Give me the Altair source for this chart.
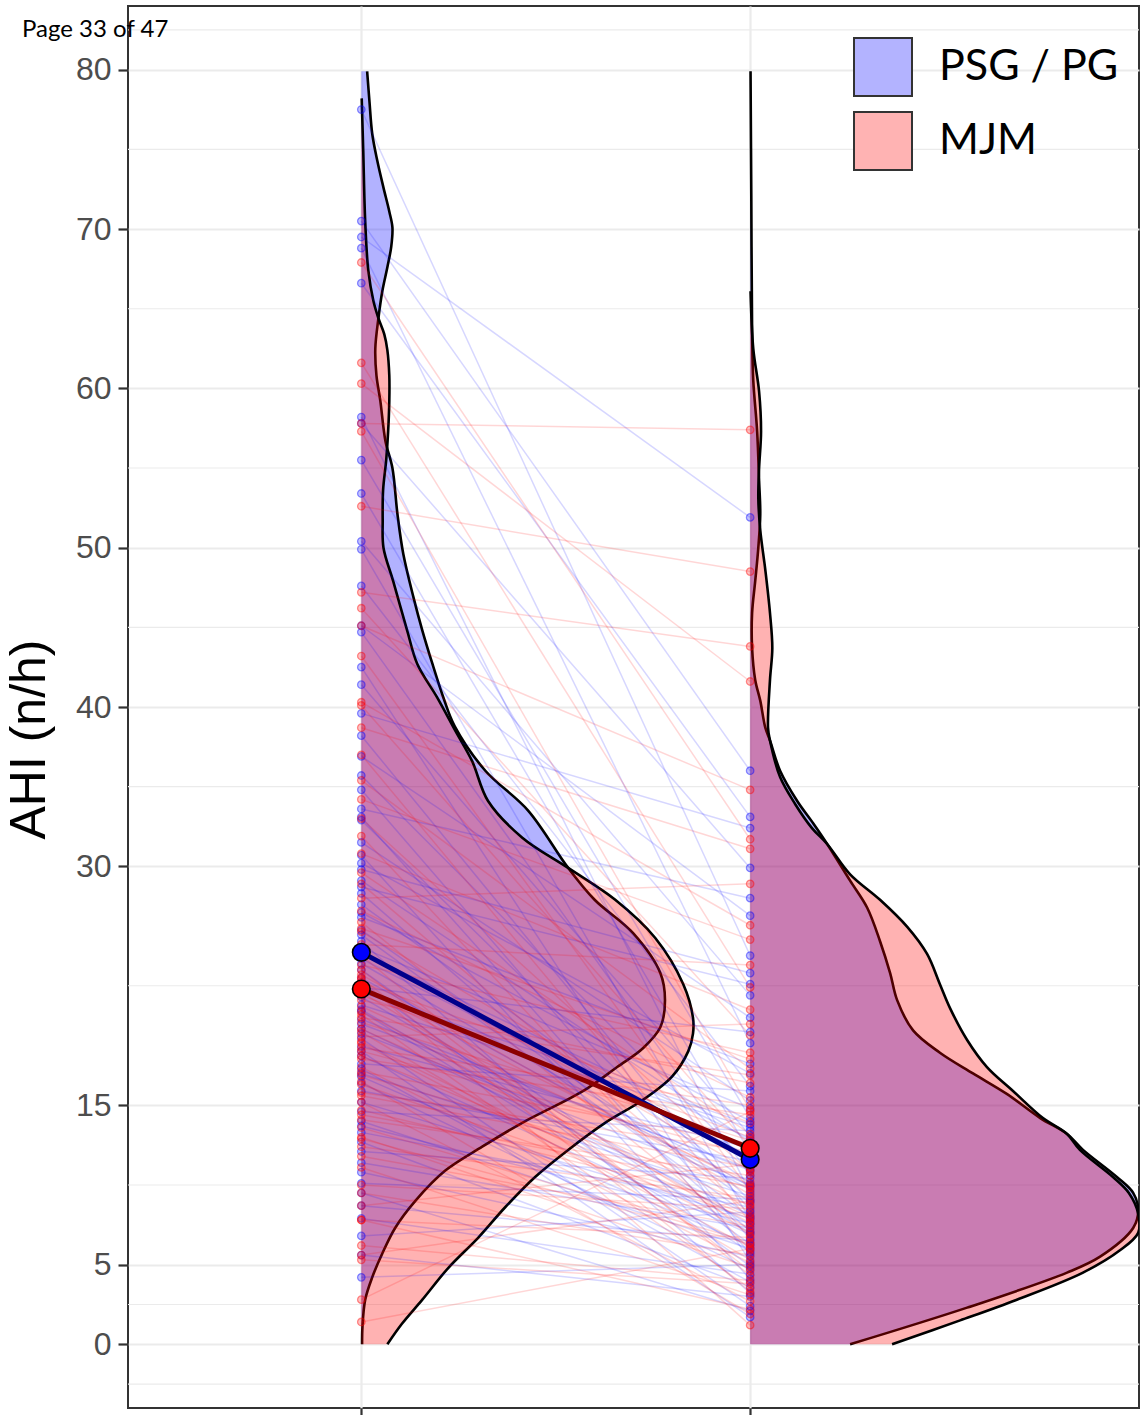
import altair as alt
import pandas as pd

# ---------------------------------------------------------------------------
# Data
# ---------------------------------------------------------------------------
GROUPS = [1, 2]
METHODS = ["PSG / PG", "MJM"]
BLUE, RED = "#0000ff", "#ff0000"

# per-subject AHI (n/h) at the first and second recording
psg_first = [77.5, 70.5, 69.5, 68.8, 66.6, 58.2, 57.8, 55.5, 53.4, 50.4,
             49.9, 47.6, 45.1, 44.7, 42.5, 41.4, 39.6, 38.2, 36.9, 35.7,
             34.8, 33.6, 32.9, 31.5, 30.7, 29.8, 29.1, 28.3, 27.6, 26.8,
             26.0, 25.3, 24.9, 24.2, 23.5, 23.0, 22.4, 21.8, 21.3, 20.9,
             20.4, 19.8, 19.2, 18.7, 18.1, 17.6, 17.0, 16.4, 15.9, 15.2,
             14.6, 14.0, 13.3, 12.7, 12.1, 11.4, 10.8, 10.1, 9.5, 8.7,
             7.9, 6.8, 5.6, 4.2, 27.1, 22.7, 19.5, 21.0, 24.6, 18.4,
             23.9, 16.8, 20.1, 25.7, 30.2, 33.1, 28.7, 17.3, 22.1, 13.7]
psg_second = [24.4, 36.0, 51.9, 18.9, 33.1, 9.5, 29.9, 14.2, 12.0, 21.9,
              7.8, 16.2, 26.9, 10.6, 5.2, 13.1, 32.4, 8.4, 20.5, 11.2,
              6.6, 28.0, 9.0, 15.3, 4.1, 23.3, 12.7, 7.1, 10.1, 17.6,
              8.9, 3.2, 14.8, 11.8, 6.3, 9.7, 19.6, 7.5, 13.6, 5.8,
              10.9, 8.1, 2.4, 12.3, 6.9, 15.9, 9.3, 4.7, 11.5, 7.9,
              13.4, 6.0, 8.6, 3.6, 10.4, 7.3, 5.5, 9.1, 2.1, 6.5,
              4.4, 8.3, 3.0, 5.0, 14.0, 4.9, 10.0, 7.0, 12.9, 1.7,
              9.9, 6.2, 11.0, 8.0, 17.0, 5.7, 22.6, 3.9, 13.8, 7.6]
mjm_first = [67.9, 61.6, 60.3, 57.8, 57.3, 52.6, 47.2, 46.2, 45.1, 43.2,
             40.3, 40.1, 38.7, 37.0, 35.4, 34.2, 33.0, 31.9, 30.8, 29.6,
             28.9, 28.0, 27.2, 26.5, 25.9, 25.1, 24.4, 23.8, 23.2, 22.7,
             22.1, 21.6, 21.2, 20.7, 20.2, 19.8, 19.3, 18.9, 18.4, 17.9,
             17.4, 16.9, 16.3, 15.8, 15.2, 14.7, 14.1, 13.6, 13.0, 12.4,
             11.8, 11.1, 10.0, 9.5, 8.7, 7.8, 7.8, 6.2, 5.6, 5.3,
             2.8, 1.4, 26.1, 22.9, 24.7, 19.0, 21.9, 23.5, 20.5, 18.1,
             16.5, 22.3, 19.6, 17.1, 20.9, 14.4, 23.0, 18.6, 12.9, 15.6]
mjm_second = [31.7, 22.4, 41.6, 57.4, 14.7, 48.5, 43.8, 19.4, 34.8, 9.6,
              26.3, 12.4, 31.1, 7.7, 17.3, 25.4, 10.8, 5.9, 21.0, 13.2,
              8.2, 28.9, 15.5, 6.8, 11.6, 23.8, 4.3, 18.3, 9.4, 13.9,
              7.2, 16.4, 10.2, 3.5, 12.8, 8.7, 20.1, 6.1, 11.9, 14.4,
              5.1, 9.8, 7.9, 12.1, 2.7, 8.8, 10.6, 6.4, 4.8, 9.2,
              7.4, 3.1, 8.5, 5.6, 11.3, 2.2, 6.7, 4.0, 9.0, 3.8,
              14.6, 6.0, 17.9, 1.2, 10.9, 7.0, 13.0, 4.6, 16.9, 8.0,
              1.9, 10.0, 5.3, 12.6, 7.6, 9.9, 3.3, 15.0, 6.3, 11.1]

# group means (first, second)
psg_means = [24.6, 11.6]
mjm_means = [22.3, 12.3]

# half-violin density outlines: AHI level and width in x units
psg_dens1_ahi = [79.9, 78.0, 76.0, 74.3, 72.6, 71.1, 70.1, 68.9, 67.6, 66.1,
                 64.4, 62.5, 60.8, 59.2, 56.7, 55.0, 52.1, 49.6, 46.9, 44.8,
                 42.7, 40.6, 38.8, 36.0, 33.5, 29.9, 27.9, 25.8, 23.3, 21.6,
                 19.9, 18.6, 17.4, 15.9, 13.9, 12.4, 10.9, 9.0, 7.3, 5.7,
                 4.2, 2.8, 1.1, 0.0]
psg_dens1_w = [0.015, 0.021, 0.028, 0.041, 0.057, 0.072, 0.080, 0.077, 0.067, 0.054,
               0.044, 0.036, 0.039, 0.049, 0.062, 0.080, 0.093, 0.108, 0.134, 0.157,
               0.183, 0.211, 0.240, 0.319, 0.429, 0.532, 0.600, 0.699, 0.769, 0.781,
               0.769, 0.725, 0.658, 0.571, 0.414, 0.311, 0.216, 0.139, 0.087, 0.054,
               0.028, 0.010, 0.003, 0.002]

mjm_dens1_ahi = [78.2, 74.9, 70.5, 67.4, 65.5, 64.4, 63.4, 62.4, 60.8, 59.2,
                 57.3, 55.5, 53.6, 51.7, 50.0, 47.9, 44.8, 42.7, 40.6, 38.5,
                 36.6, 34.1, 31.8, 29.9, 27.9, 25.5, 22.6, 20.5, 19.5, 18.4,
                 16.8, 15.3, 13.9, 12.2, 10.5, 8.6, 6.7, 4.8, 2.8, 1.3, 0.0]
mjm_dens1_w = [0.001, 0.005, 0.010, 0.018, 0.031, 0.044, 0.059, 0.067, 0.072, 0.072,
               0.069, 0.064, 0.056, 0.055, 0.057, 0.082, 0.118, 0.144, 0.195, 0.242,
               0.285, 0.326, 0.414, 0.532, 0.653, 0.756, 0.828, 0.853, 0.853, 0.841,
               0.799, 0.722, 0.627, 0.532, 0.447, 0.370, 0.301, 0.224, 0.157, 0.105, 0.067]

psg_dens2_ahi = [79.9, 71.8, 63.6, 60.5, 57.3, 54.2, 52.1, 50.0, 47.9, 45.9,
                 43.7, 41.7, 40.4, 38.7, 37.9, 36.0, 34.1, 32.7, 31.4, 29.1,
                 27.4, 25.3, 23.3, 21.6, 19.7, 18.3, 17.0, 15.7, 14.2, 13.2,
                 12.2, 10.5, 9.5, 8.4, 7.3, 5.5, 4.5, 2.3, 0.0]
psg_dens2_w = [0.001, 0.003, 0.005, 0.008, 0.018, 0.023, 0.026, 0.021, 0.013, 0.005,
               0.005, 0.013, 0.026, 0.039, 0.051, 0.077, 0.121, 0.162, 0.198, 0.257,
               0.301, 0.334, 0.360, 0.378, 0.419, 0.488, 0.573, 0.661, 0.746, 0.815,
               0.856, 0.943, 0.985, 0.998, 0.985, 0.900, 0.815, 0.558, 0.257]

mjm_dens2_ahi = [66.1, 62.5, 59.8, 57.3, 55.0, 53.1, 51.1, 48.6, 45.9, 43.7,
                 41.7, 38.7, 37.9, 35.6, 33.9, 32.4, 31.4, 29.5, 27.9, 26.2,
                 24.5, 22.6, 21.1, 19.1, 17.4, 15.9, 14.2, 13.2, 12.2, 10.5,
                 9.5, 8.2, 7.0, 5.9, 4.5, 2.8, 1.5, 0.0]
mjm_dens2_w = [0.001, 0.008, 0.023, 0.028, 0.023, 0.021, 0.026, 0.039, 0.051, 0.057,
               0.051, 0.046, 0.051, 0.077, 0.116, 0.159, 0.198, 0.257, 0.334, 0.404,
               0.455, 0.488, 0.514, 0.558, 0.609, 0.676, 0.753, 0.815, 0.848, 0.933,
               0.974, 0.998, 0.998, 0.951, 0.856, 0.686, 0.540, 0.365]

y_breaks = [0, 5, 15, 30, 40, 50, 60, 70, 80]
y_minor = [-2.5, 2.5, 10, 22.5, 35, 45, 55, 65, 75, 82.5]

# ---------------------------------------------------------------------------
# Tables
# ---------------------------------------------------------------------------
def density_frame(parts, method):
    rows = []
    for group, ahi, width in parts:
        for a, w in zip(ahi, width):
            rows.append({"group": group, "ahi": a, "base": group,
                         "edge": group + w, "method": method})
    return pd.DataFrame(rows).sort_values(["group", "ahi"]).reset_index(drop=True)


def subject_frame(first, second, method):
    rows = []
    for i, (a, b) in enumerate(zip(first, second)):
        rows.append({"subject": i, "gx": GROUPS[0], "ahi": a, "method": method})
        rows.append({"subject": i, "gx": GROUPS[1], "ahi": b, "method": method})
    return pd.DataFrame(rows)


dens_psg = density_frame([(1, psg_dens1_ahi, psg_dens1_w),
                          (2, psg_dens2_ahi, psg_dens2_w)], METHODS[0])
dens_mjm = density_frame([(1, mjm_dens1_ahi, mjm_dens1_w),
                          (2, mjm_dens2_ahi, mjm_dens2_w)], METHODS[1])
subj_psg = subject_frame(psg_first, psg_second, METHODS[0])
subj_mjm = subject_frame(mjm_first, mjm_second, METHODS[1])
mean_psg = pd.DataFrame({"gx": GROUPS, "ahi": psg_means, "method": METHODS[0]})
mean_mjm = pd.DataFrame({"gx": GROUPS, "ahi": mjm_means, "method": METHODS[1]})
means_all = pd.concat([mean_psg, mean_mjm], ignore_index=True)
minor_df = pd.DataFrame({"v": y_minor})

# ---------------------------------------------------------------------------
# Scales and axes
# ---------------------------------------------------------------------------
x_scale = alt.Scale(domain=[0.4, 3.0], nice=False, zero=False)
y_scale = alt.Scale(domain=[-4, 84], nice=False, zero=False)

x_axis = alt.Axis(values=GROUPS, labels=False, domain=False, grid=True,
                  gridColor="#EBEBEB", gridWidth=2.2, ticks=True, tickSize=8,
                  tickWidth=2.2, tickColor="#333333")
y_axis = alt.Axis(values=y_breaks, domain=False, grid=True, gridColor="#EBEBEB",
                  gridWidth=2.2, ticks=True, tickSize=10, tickWidth=2.2,
                  tickColor="#333333", labelFont="Liberation Sans",
                  labelFontSize=32, labelColor="#4D4D4D", labelPadding=7,
                  titleFont="Liberation Sans", titleFontSize=50,
                  titleFontWeight="normal", titleColor="black", titleAngle=270,
                  titleAlign="center", titleBaseline="middle",
                  titleX=-99, titleY=733)


def X(field):
    return alt.X(f"{field}:Q", scale=x_scale, axis=x_axis, title=None)


def Y(field):
    return alt.Y(f"{field}:Q", scale=y_scale, axis=y_axis, title="AHI (n/h)")


# ---------------------------------------------------------------------------
# Layers
# ---------------------------------------------------------------------------
minor_grid = alt.Chart(minor_df).mark_rule(color="#EBEBEB", strokeWidth=1.1).encode(
    y=Y("v"))


def violin_fill(df, colour):
    return alt.Chart(df).mark_area(orient="horizontal", fill=colour,
                                   fillOpacity=0.3, clip=True,
                                   interpolate="catmull-rom").encode(
        y=Y("ahi"), x=X("base"), x2=alt.X2("edge"), detail="group:N")


def violin_outline(df):
    return alt.Chart(df).mark_line(color="black", strokeWidth=2.6, clip=True,
                                   interpolate="catmull-rom").encode(
        y=Y("ahi"), x=X("edge"), detail="group:N", order="ahi:Q")


def subject_lines(df, colour):
    return alt.Chart(df).mark_line(color=colour, strokeWidth=1.5, opacity=0.16).encode(
        x=X("gx"), y=Y("ahi"), detail="subject:N")


def subject_points(df, colour):
    return alt.Chart(df).mark_circle(size=56, color=colour, opacity=1,
                                     fillOpacity=0.24, stroke=colour,
                                     strokeOpacity=0.42, strokeWidth=1.3).encode(
        x=X("gx"), y=Y("ahi"))


def mean_line(df, colour):
    return alt.Chart(df).mark_line(color=colour, strokeWidth=5).encode(
        x=X("gx"), y=Y("ahi"))


def mean_points(df, colour):
    return alt.Chart(df).mark_circle(size=310, color=colour, opacity=1,
                                     stroke="black", strokeWidth=1.6).encode(
        x=X("gx"), y=Y("ahi"))


legend_layer = alt.Chart(means_all).mark_square(
    opacity=0, size=3364, stroke="#333333", strokeWidth=2).encode(
    x=X("gx"), y=Y("ahi"),
    fill=alt.Fill("method:N",
                  scale=alt.Scale(domain=METHODS, range=["#b3b3ff", "#ffb3b3"]),
                  legend=alt.Legend(title=None, orient="none", legendX=725,
                                    legendY=31, symbolType="square",
                                    symbolSize=3364, symbolStrokeColor="#333333",
                                    symbolStrokeWidth=2, symbolOpacity=1,
                                    labelFont="Lato", labelFontSize=43,
                                    labelColor="black", labelOffset=26,
                                    labelLimit=400, rowPadding=8, padding=0)))

chart = alt.layer(
    minor_grid,
    violin_fill(dens_psg, BLUE),
    violin_outline(dens_psg),
    violin_fill(dens_mjm, RED),
    violin_outline(dens_mjm),
    subject_lines(subj_psg, BLUE),
    subject_lines(subj_mjm, RED),
    subject_points(subj_psg, BLUE),
    subject_points(subj_mjm, RED),
    mean_line(mean_psg, "#00008b"),
    mean_line(mean_mjm, "#8b0000"),
    mean_points(mean_psg, BLUE),
    mean_points(mean_mjm, RED),
    legend_layer,
).properties(
    width=1011,
    height=1402,
    autosize=alt.AutoSizeParams(type="none"),
    padding={"left": 128, "top": 6, "right": 1, "bottom": 7},
    background="white",
    title=alt.TitleParams("Page 33 of 47", anchor="start", frame="group",
                          font="Lato", fontSize=24, fontWeight="normal",
                          color="black", baseline="alphabetic", offset=0,
                          dx=-106, dy=55),
).configure_view(
    stroke="#333333", strokeWidth=2, fill="white"
)

chart.save("out.html", embed_options={"renderer": "svg", "actions": False})
